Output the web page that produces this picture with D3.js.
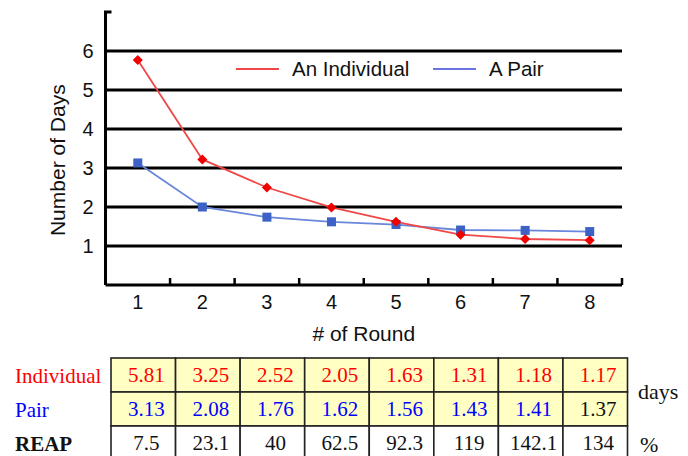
<!DOCTYPE html>
<html><head><meta charset="utf-8">
<script src="https://cdn.jsdelivr.net/npm/d3@7"></script>
<style>body{margin:0;background:#fff}svg{display:block}</style>
</head><body>
<svg id="c" width="688" height="456"></svg>
<script>
const rounds = [1,2,3,4,5,6,7,8];
const yTicks = [1,2,3,4,5,6];
const individualPlot = [5.77,3.22,2.5,1.99,1.62,1.29,1.18,1.15];
const pairPlot = [3.13,2.0,1.74,1.62,1.55,1.41,1.40,1.37];
const individualTable = ["5.81","3.25","2.52","2.05","1.63","1.31","1.18","1.17"];
const pairTable = ["3.13","2.08","1.76","1.62","1.56","1.43","1.41","1.37"];
const reapTable = ["7.5","23.1","40","62.5","92.3","119","142.1","134"];
const seriesNames = ["An Individual","A Pair"];
const rowLabels = ["Individual","Pair","REAP"];

const svg = d3.select("#c");
const x = d3.scaleBand().domain(rounds).range([105.5,622]);
const y = d3.scaleLinear().domain([0,7]).range([285,12]);
const sans = "'Liberation Sans', Arial, sans-serif";
const serif = "'Liberation Serif', 'Times New Roman', serif";

// gridlines
svg.append("g").selectAll("line").data(yTicks).join("line")
  .attr("x1",x.range()[0]).attr("x2",x.range()[1])
  .attr("y1",d=>y(d)).attr("y2",d=>y(d))
  .attr("stroke","#000").attr("stroke-width",2.8);

// y axis
const yAxis = svg.append("g").attr("transform",`translate(${x.range()[0]},0)`)
  .call(d3.axisLeft(y).tickValues(yTicks).tickFormat(d3.format("d")).tickSize(0).tickPadding(12));
yAxis.select(".domain").remove();
yAxis.selectAll("text").attr("font-family",sans).attr("font-size",20).attr("fill","#111");
svg.append("path").attr("d",`M${x.range()[0]+6},${y(7)}H${x.range()[0]}V${y(0)}`)
  .attr("fill","none").attr("stroke","#000").attr("stroke-width",3);

// x axis
const xAxis = svg.append("g").attr("transform",`translate(0,${y(0)})`)
  .call(d3.axisBottom(x).tickSize(0).tickPadding(10));
xAxis.select(".domain").remove();
xAxis.selectAll("text").attr("font-family",sans).attr("font-size",20).attr("fill","#111");
svg.append("line").attr("x1",x.range()[0]).attr("x2",x.range()[1])
  .attr("y1",y(0)).attr("y2",y(0)).attr("stroke","#000").attr("stroke-width",3);
const bounds = rounds.slice(1).map(r=>x(r)).concat([x.range()[1]]);
svg.append("g").selectAll("line").data(bounds).join("line")
  .attr("x1",d=>d).attr("x2",d=>d).attr("y1",y(0)).attr("y2",y(0)-7)
  .attr("stroke","#000").attr("stroke-width",2.5);

// axis titles
svg.append("text").attr("transform",`translate(65,${y(3.2)}) rotate(-90)`)
  .attr("text-anchor","middle").attr("font-family",sans).attr("font-size",21).attr("fill","#111")
  .text("Number of Days");
svg.append("text").attr("x",(x.range()[0]+x.range()[1])/2).attr("y",341)
  .attr("text-anchor","middle").attr("font-family",sans).attr("font-size",21).attr("fill","#111")
  .text("# of Round");

const cx = d => x(d) + x.bandwidth()/2;
const line = d3.line().x((d,i)=>cx(rounds[i])).y(d=>y(d));

// series lines
svg.append("path").datum(pairPlot).attr("d",line).attr("fill","none")
  .attr("stroke","#6a86dc").attr("stroke-width",1.8);
svg.append("path").datum(individualPlot).attr("d",line).attr("fill","none")
  .attr("stroke","#f04848").attr("stroke-width",1.8);
svg.append("g").selectAll("rect").data(pairPlot).join("rect")
  .attr("x",(d,i)=>cx(rounds[i])-4.5).attr("y",d=>y(d)-4.5)
  .attr("width",9).attr("height",9).attr("fill","#3b62c4");
const diamond = d3.symbol().type(d3.symbolDiamond2).size(64);
svg.append("g").selectAll("path").data(individualPlot).join("path")
  .attr("d",diamond).attr("transform",(d,i)=>`translate(${cx(rounds[i])},${y(d)})`)
  .attr("fill","#f00000");

// legend
const leg = [{name:seriesNames[0],c:"#f04848",x1:236},{name:seriesNames[1],c:"#6a74e0",x1:433}];
leg.forEach(l=>{
  svg.append("line").attr("x1",l.x1).attr("x2",l.x1+43).attr("y1",69).attr("y2",69)
    .attr("stroke",l.c).attr("stroke-width",2);
  svg.append("text").attr("x",l.x1+56).attr("y",76).attr("font-family",sans).attr("font-size",20.5)
    .attr("fill","#111").text(l.name);
});

// table
const colX = d3.scaleBand().domain(rounds).range([111,627.5]);
const rowY = d3.scaleBand().domain([0,1,2]).range([358,460]);
const rows = [
  {vals:individualTable,colors:individualTable.map(()=>"#ff0000"),fill:"#ffffc4",label:rowLabels[0],lc:"#ff0000",bold:false},
  {vals:pairTable,colors:pairTable.map((v,i)=>i===7?"#111":"#0000ff"),fill:"#ffffc4",label:rowLabels[1],lc:"#0000ff",bold:false},
  {vals:reapTable,colors:reapTable.map(()=>"#111"),fill:"#ffffff",label:rowLabels[2],lc:"#111",bold:true}
];
rows.forEach((r,ri)=>{
  const g = svg.append("g");
  g.selectAll("rect").data(rounds).join("rect")
    .attr("x",d=>colX(d)).attr("y",rowY(ri)).attr("width",colX.bandwidth()).attr("height",rowY.bandwidth())
    .attr("fill",r.fill).attr("stroke","#222").attr("stroke-width",1.6);
  g.selectAll("text").data(r.vals).join("text")
    .attr("x",(d,i)=>colX(rounds[i])+colX.bandwidth()/2+3).attr("y",rowY(ri)+rowY.bandwidth()/2+7)
    .attr("text-anchor","middle").attr("font-family",serif).attr("font-size",21)
    .attr("fill",(d,i)=>r.colors[i]).text(d=>d);
  svg.append("text").attr("x",15).attr("y",rowY(ri)+rowY.bandwidth()/2+8)
    .attr("font-family",serif).attr("font-size",21).attr("font-weight",r.bold?"bold":"normal")
    .attr("fill",r.lc).text(r.label);
});
svg.append("text").attr("x",638).attr("y",rowY(1)+7).attr("font-family",serif).attr("font-size",22)
  .attr("fill","#111").text("days");
svg.append("text").attr("x",640).attr("y",rowY(2)+rowY.bandwidth()/2+9).attr("font-family",serif).attr("font-size",22)
  .attr("fill","#111").text("%");
</script>
</body></html>
